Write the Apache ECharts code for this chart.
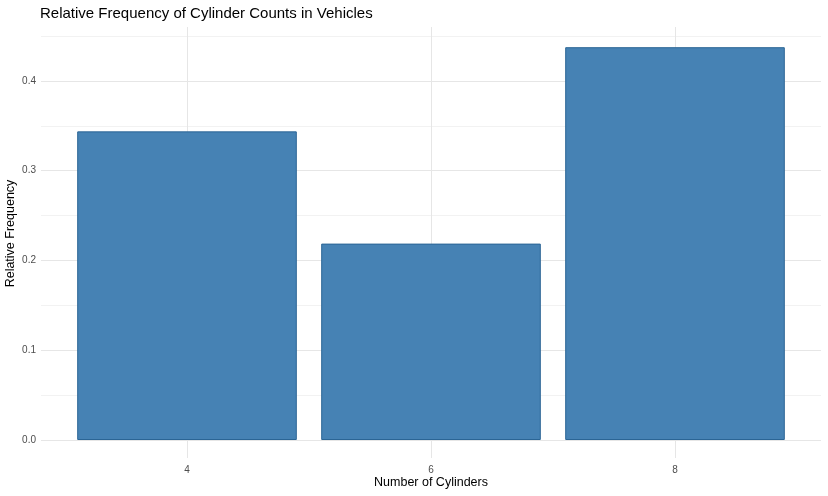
<!DOCTYPE html>
<html>
<head>
<meta charset="utf-8">
<script src="https://cdn.jsdelivr.net/npm/echarts@6/dist/echarts.min.js"></script>
<style>
  html, body { margin: 0; padding: 0; background: #fff; }
  #chart { width: 828px; height: 496px; }
</style>
</head>
<body>
<div id="chart"></div>
<script>
// mtcars: counts of 4, 6, 8 cylinders out of 32
var cylinders = ['4', '6', '8'];
var relFreq = [0.34375, 0.21875, 0.4375];
var yTicks = [0, 0.05, 0.1, 0.15, 0.2, 0.25, 0.3, 0.35, 0.4, 0.45];
var yMax = 0.46;

var font = 'Liberation Sans, Arial, sans-serif';

// one colour per split line: major, minor, ..., transparent for the top edge
var lineColors = yTicks.map(function (v, i) {
    return i % 2 === 0 ? '#e6e6e6' : '#f2f2f2';
});
lineColors.push('rgba(0,0,0,0)');

var myChart = echarts.init(document.getElementById('chart'));
var option = {
    animation: false,
    title: {
        text: 'Relative Frequency of Cylinder Counts in Vehicles',
        left: 35,
        top: 1,
        textStyle: { fontFamily: font, fontSize: 15, fontWeight: 'normal', color: '#000' }
    },
    // grid 0: full panel (horizontal grid lines), grid 1: the bars (ggplot's 0.6 expansion)
    grid: [
        { left: 41, right: 7, top: 27, bottom: 56, containLabel: false, outerBoundsMode: 'none' },
        { left: 65, right: 31, top: 27, bottom: 56, containLabel: false, outerBoundsMode: 'none' }
    ],
    xAxis: [
        {
            type: 'value', gridIndex: 0, min: 0, max: 1, show: false
        },
        {
            type: 'category',
            gridIndex: 1,
            data: cylinders,
            axisLine: { show: false },
            // vertical major grid lines drawn as long inside ticks
            axisTick: { show: true, inside: true, length: 413, alignWithLabel: true,
                        lineStyle: { color: '#e6e6e6', width: 1 } },
            axisLabel: { margin: 25, fontFamily: font, fontSize: 10, color: '#4d4d4d' },
            name: 'Number of Cylinders',
            nameLocation: 'middle',
            nameGap: 36,
            nameMoveOverlap: false,
            nameTextStyle: { fontFamily: font, fontSize: 12.5, color: '#000' }
        },
        {
            type: 'category',
            gridIndex: 1,
            data: cylinders,
            position: 'bottom',
            axisLine: { show: false },
            // stubs of the grid lines below zero
            axisTick: { show: true, inside: false, length: 18, alignWithLabel: true,
                        lineStyle: { color: '#e6e6e6', width: 1 } },
            axisLabel: { show: false }
        }
    ],
    yAxis: [
        {
            type: 'value',
            gridIndex: 0,
            min: 0,
            max: yMax,
            interval: 0.05,
            axisLine: { show: false },
            axisTick: { show: false },
            axisLabel: {
                margin: 5,
                fontFamily: font, fontSize: 10, color: '#4d4d4d',
                formatter: function (v) {
                    var k = Math.round(v * 100);
                    if (k % 10 !== 0 || Math.abs(v * 100 - k) > 1e-6) return '';
                    return v.toFixed(1);
                }
            },
            splitLine: { show: true, lineStyle: { color: lineColors, width: 1 } },
            name: 'Relative Frequency',
            nameLocation: 'middle',
            nameGap: 24,
            nameMoveOverlap: false,
            nameRotate: 90,
            nameTextStyle: { fontFamily: font, fontSize: 12.5, color: '#000' }
        },
        {
            type: 'value', gridIndex: 1, min: 0, max: yMax, show: false
        }
    ],
    series: [{
        type: 'bar',
        xAxisIndex: 1,
        yAxisIndex: 1,
        data: relFreq,
        barWidth: '90%',
        itemStyle: { color: '#4682B4', borderColor: '#2b6595', borderWidth: 1 }
    }]
};
myChart.setOption(option);
</script>
</body>
</html>
